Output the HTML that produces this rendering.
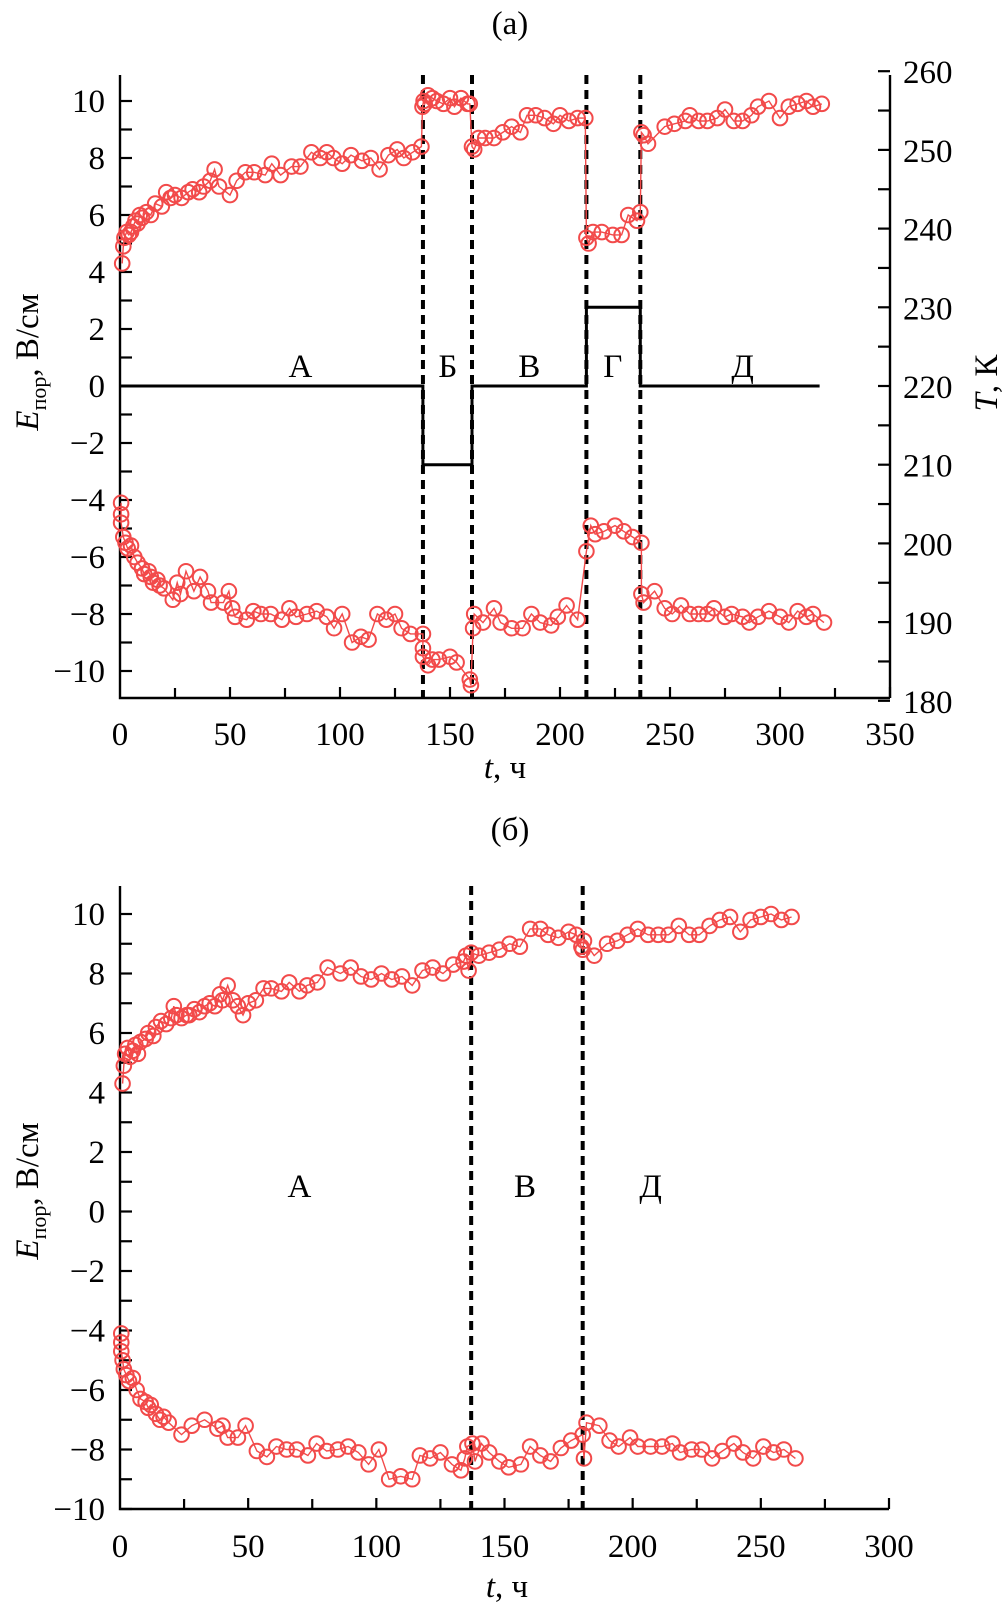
<!DOCTYPE html>
<html><head><meta charset="utf-8"><style>
html,body{margin:0;padding:0;background:#fff}
svg{display:block;font-family:"Liberation Serif",serif}
</style></head><body>
<svg id="fig" width="1007" height="1624" viewBox="0 0 1007 1624" xmlns="http://www.w3.org/2000/svg"></svg>
<script>
// ---------- DATA (a) ----------
const aUpT=[1,1.5,2,3,4,5,6,7,8,9,10,12,14,16,19,21,23,25,28,31,33,36,38,41,43,45,50,53,57,61,66,69,73,78,82,87,91,94,97,101,105,110,114,118,122,126,129,133,137,137.5,138,138.5,140,142,144,147,150,152,155,158,159,160,161,163,166,170,174,178,182,185,189,193,197,200,204,208,211.5,212,213,215,219,224,228,231,235,236.5,237,238,240,247.6,252,257,259,263,267,271.5,275,279,283,287,290,295,300,304,308,312,315,319];
const aUpE=[4.3,4.9,5.2,5.4,5.3,5.4,5.6,5.8,5.7,6.0,5.9,6.1,6.0,6.4,6.3,6.8,6.6,6.7,6.6,6.8,6.9,6.8,7.0,7.2,7.6,7.0,6.7,7.2,7.5,7.5,7.4,7.8,7.4,7.7,7.7,8.2,8.0,8.2,8.0,7.8,8.1,7.9,8.0,7.6,8.1,8.3,8.0,8.2,8.4,9.8,10.0,9.9,10.2,10.1,10.0,9.9,10.1,9.8,10.1,9.9,9.9,8.4,8.3,8.7,8.7,8.7,8.9,9.1,8.9,9.5,9.5,9.4,9.2,9.5,9.3,9.4,9.4,5.2,5.0,5.4,5.4,5.3,5.3,6.0,5.8,6.1,8.9,8.8,8.5,9.1,9.2,9.3,9.5,9.3,9.3,9.4,9.7,9.3,9.3,9.5,9.8,10.0,9.4,9.8,9.9,10.0,9.8,9.9];
const aLoT=[0.5,0.5,0.5,1.5,2.5,3.5,5,6.5,8,10,11,13,14,15,17,18,20,24,26,27.5,30,33.6,36.4,40,41.4,47,49.5,51,52.3,57.6,60.6,64,68.5,73.6,77,80,85,89.4,94,97.3,101,105.5,109.5,113,117,121,125,128,132,137.7,137.7,137.7,140,142,145,150,153,159,159.5,160.5,161,165,170,173,178,183,187,191,196,199,203,208,212,214,216,220,225,229,233,237,237,238,243,247.6,251,255,259,263,267,270,275,278,283,286,290,295,300,304,308,312,315,320];
const aLoE=[-4.1,-4.5,-4.8,-5.3,-5.5,-5.7,-5.6,-6.0,-6.2,-6.4,-6.6,-6.5,-6.7,-6.9,-6.8,-7.0,-7.1,-7.5,-6.9,-7.3,-6.5,-7.2,-6.7,-7.2,-7.6,-7.6,-7.2,-7.8,-8.1,-8.2,-7.9,-8.0,-8.0,-8.2,-7.8,-8.1,-8.0,-7.9,-8.1,-8.5,-8.0,-9.0,-8.8,-8.9,-8.0,-8.2,-8.0,-8.5,-8.7,-8.7,-9.2,-9.5,-9.8,-9.6,-9.6,-9.5,-9.7,-10.3,-10.5,-8.5,-8.0,-8.3,-7.8,-8.3,-8.5,-8.5,-8.0,-8.3,-8.4,-8.1,-7.7,-8.2,-5.8,-4.9,-5.2,-5.1,-4.9,-5.1,-5.3,-5.5,-7.3,-7.6,-7.2,-7.8,-8.0,-7.7,-8.0,-8.0,-8.0,-7.8,-8.1,-8.0,-8.1,-8.3,-8.1,-7.9,-8.1,-8.3,-7.9,-8.1,-8.0,-8.3];
const tempT=[0,137.7,137.7,160,160,212,212,236.5,236.5,318];
const tempK=[220,220,210,210,220,220,230,230,220,220];
const aDash=[137.7,160,212,236.5];
const aZoneLbl=['А','Б','В','Г','Д'];
const aZoneT=[82,149,186,224,283];
const aXTicks=[0,50,100,150,200,250,300,350];
const aYTicks=[-10,-8,-6,-4,-2,0,2,4,6,8,10];
const aTTicks=[180,190,200,210,220,230,240,250,260];
// ---------- DATA (b) ----------
const bUpT=[1,1.5,2,3,4,5,6,7,8,10,11,13,14,16,18,20,21,22,24,26,27,29,31,33,35,37,39,40,42,44,46,48,50,53,56,59,63,66,70,73,77,81,86,90,94,98,102,106,110,114,118,122,126,130,134,135,136,137,140,144,148,152,156,160,164,167,171,175,178,180,180.5,181,185,190,194,198,202,206,210,214,218,222,226,230,234,238,242,246,250,254,258,262];
const bUpE=[4.3,4.9,5.3,5.5,5.2,5.4,5.6,5.3,5.7,5.8,6.0,5.9,6.2,6.4,6.3,6.5,6.9,6.6,6.5,6.6,6.6,6.8,6.7,6.9,7.0,6.9,7.3,7.1,7.6,7.1,6.9,6.6,7.0,7.1,7.5,7.5,7.4,7.7,7.4,7.6,7.7,8.2,8.0,8.2,7.9,7.8,8.0,7.8,7.9,7.6,8.1,8.2,8.0,8.3,8.4,8.6,8.1,8.7,8.6,8.7,8.8,9.0,8.9,9.5,9.5,9.3,9.2,9.4,9.3,8.9,8.8,9.1,8.6,9.0,9.1,9.3,9.5,9.3,9.3,9.3,9.6,9.3,9.3,9.6,9.8,9.9,9.4,9.8,9.9,10.0,9.8,9.9];
const bLoT=[0.5,0.5,0.5,1,1.5,2.5,3.5,5,6.5,8,10,11,12,14,15.6,17,19,24,28,33,38,40,42,46,49,53.4,57.3,61,65,69,73.3,76.7,80.6,85,89,93,97,101,105,109.5,114,117,121,125,129.5,133,134.5,135.5,137.5,138.5,141,144,148,151.6,156.4,160,164,168,172,176,180.5,181,182,187,191,194.5,199,202,207,211.5,215.5,218.5,223,227,231,235,239.5,243,247,251,255,259,263.5];
const bLoE=[-4.1,-4.4,-4.7,-5.0,-5.3,-5.5,-5.7,-5.6,-6.0,-6.3,-6.4,-6.6,-6.5,-6.8,-7.0,-6.9,-7.1,-7.5,-7.2,-7.0,-7.3,-7.2,-7.6,-7.6,-7.2,-8.05,-8.25,-7.9,-8.0,-8.0,-8.2,-7.8,-8.05,-8.0,-7.9,-8.1,-8.5,-8.0,-9.0,-8.9,-9.0,-8.2,-8.3,-8.1,-8.5,-8.7,-8.3,-7.9,-7.8,-8.4,-7.8,-8.1,-8.4,-8.6,-8.5,-7.9,-8.2,-8.4,-7.95,-7.7,-7.5,-8.3,-7.1,-7.2,-7.7,-7.9,-7.6,-7.9,-7.9,-7.9,-7.8,-8.1,-8.0,-8.0,-8.3,-8.05,-7.8,-8.1,-8.3,-7.9,-8.1,-8.0,-8.3];
const bDash=[137,180.5];
const bZoneLbl=['А','В','Д'];
const bZoneT=[70,158,207];
const bXTicks=[0,50,100,150,200,250,300];
const bYTicks=[-10,-8,-6,-4,-2,0,2,4,6,8,10];

// ---------- DRAWING ----------
const NS='http://www.w3.org/2000/svg';
const svg=document.getElementById('fig');
const RED='#f24a4a';
function mk(tag,attrs,parent){const e=document.createElementNS(NS,tag);for(const k in attrs)e.setAttribute(k,attrs[k]);(parent||svg).appendChild(e);return e;}
function txt(s,x,y,size,anchor,parent,style){const e=mk('text',{x:x,y:y,'font-size':size,'text-anchor':anchor||'middle',fill:'#000'},parent);if(style)e.setAttribute('font-style',style);e.textContent=s;return e;}
function fmt(v){return v<0?'\u2212'+Math.abs(v):String(v);}

function panel(o){
  const g=mk('g',{});
  
  
  const X=t=>o.x0+(t-o.tmin)*(o.x1-o.x0)/(o.tmax-o.tmin);
  const Y=v=>o.yb+(v-o.ymin)*(o.yt-o.yb)/(o.ymax-o.ymin);
  // axes
  const ax=mk('path',{d:`M${o.x0},${o.top} V${o.yb0} H${o.x1}`,fill:'none',stroke:'#000','stroke-width':2.4},g);
  
  
  // x ticks
  for(let t=o.tmin;t<=o.tmax;t+=25){
    if(t===o.tmin)continue;
    const tk=mk('line',{x1:X(t),x2:X(t),y1:o.yb0,y2:o.yb0-(t%50===0?11:10),stroke:'#000','stroke-width':2.2},g);
    
    
  }
  o.xTicks.forEach(t=>{const l=txt(String(t),X(t),o.xLblY,33,'middle',g);});
  // y ticks
  for(let v=o.ymin;v<=o.ymax;v+=1){
    const tk=mk('line',{x1:o.x0,x2:o.x0+12,y1:Y(v),y2:Y(v),stroke:'#000','stroke-width':2.2},g);
    
    
  }
  o.yTicks.forEach(v=>{const l=txt(fmt(v),o.x0-15,Y(v)+11,33,'end',g);});
  // axis titles
  const xt=mk('text',{x:o.xTitleX,y:o.xTitleY,'font-size':33,'text-anchor':'middle'},g);
  
  
  xt.innerHTML='<tspan font-style="italic">t</tspan>,  ч';
  const yt=mk('text',{transform:`translate(${o.yTitleX},${o.yTitleY}) rotate(-90)`,'font-size':33,'text-anchor':'middle'},g);
  
  
  yt.innerHTML='<tspan font-style="italic">E</tspan><tspan font-size="22" dy="8">пор</tspan><tspan dy="-8">, В/см</tspan>';
  // title
  const ti=txt(o.title,o.titleX,o.titleY,33,'middle',g);
  
  
  // dashed lines
  o.dash.forEach(t=>{
    const d=mk('line',{x1:X(t),x2:X(t),y1:o.top,y2:o.yb0,stroke:'#000','stroke-width':4,'stroke-dasharray':'9,6'},g);
    
    
  });
  // zone labels
  o.zoneLbl.forEach((s,i)=>{const l=txt(s,X(o.zoneT[i]),o.zoneY,33,'middle',g);});
  // series
  [[o.upT,o.upE,'upper'],[o.loT,o.loE,'lower']].forEach(([T,E,nm])=>{
    const sg=mk('g',{},g);
    
    
    const pts=T.map((t,i)=>X(t).toFixed(1)+','+Y(E[i]).toFixed(1)).join(' ');
    const pl=mk('polyline',{points:pts,fill:'none',stroke:RED,'stroke-width':1.4},sg);
    
    
    T.forEach((t,i)=>{
      const c=mk('circle',{cx:X(t),cy:Y(E[i]),r:7.3,fill:'none',stroke:RED,'stroke-width':2},sg);
      
      
    });
  });
  return {g,X,Y};
}

const A=panel({name:'panel-a',title:'(a)',titleX:510,titleY:34,x0:120,x1:890,tmin:0,tmax:350,top:75,yb0:698,
  ymin:-10,ymax:10,yb:671,yt:101,xTicks:aXTicks,yTicks:aYTicks,xLblY:745,xTitleX:505,xTitleY:778,yTitleX:38,yTitleY:362,
  dash:aDash,zoneLbl:aZoneLbl,zoneT:aZoneT,zoneY:377,upT:aUpT,upE:aUpE,loT:aLoT,loE:aLoE});

// temperature axis (right) for panel a
const TY=k=>386-(k-220)*7.87;
const ra=mk('line',{x1:890,x2:890,y1:75,y2:698,stroke:'#000','stroke-width':2.4},A.g);


for(let k=180;k<=260;k+=5){
  const tk=mk('line',{x1:890,x2:878,y1:TY(k),y2:TY(k),stroke:'#000','stroke-width':2.2},A.g);
  
  
}
aTTicks.forEach(k=>{const l=txt(String(k),903,TY(k)+12,33,'start',A.g);});
const rt=mk('text',{transform:'translate(997,383) rotate(-90)','font-size':33,'text-anchor':'middle'},A.g);


rt.innerHTML='<tspan font-style="italic">T</tspan>, К';
const tl=mk('polyline',{points:tempT.map((t,i)=>A.X(t).toFixed(1)+','+TY(tempK[i]).toFixed(1)).join(' '),fill:'none',stroke:'#000','stroke-width':3},A.g);



panel({name:'panel-b',title:'(б)',titleX:510,titleY:840,x0:120,x1:889,tmin:0,tmax:300,top:886,yb0:1509,
  ymin:-10,ymax:10,yb:1509,yt:914,xTicks:bXTicks,yTicks:bYTicks,xLblY:1557,xTitleX:507,xTitleY:1597,yTitleX:38,yTitleY:1191,
  dash:bDash,zoneLbl:bZoneLbl,zoneT:bZoneT,zoneY:1197,upT:bUpT,upE:bUpE,loT:bLoT,loE:bLoE});
</script>
</body></html>
